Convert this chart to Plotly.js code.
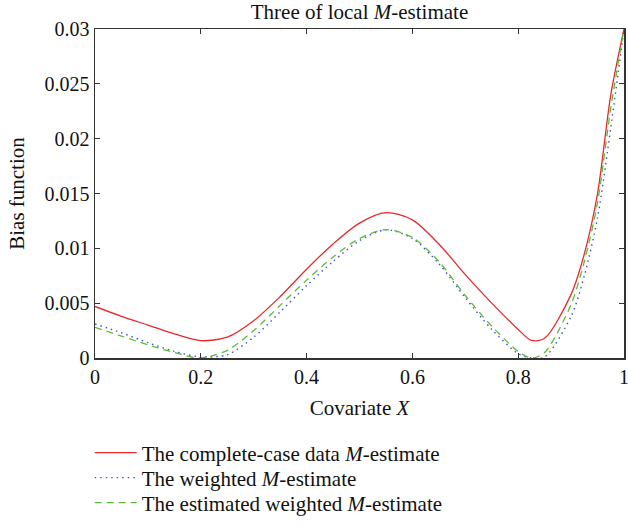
<!DOCTYPE html>
<html>
<head>
<meta charset="utf-8">
<script src="https://cdn.plot.ly/plotly-3.0.1.min.js"></script>
<style>html,body{margin:0;padding:0;background:#fff;}#chart{width:628px;height:525px;}</style>
</head>
<body>
<div id="chart"></div>
<script>
// Covariate X grid points (shared by the three curves)
const covariateX = [0, 0.05, 0.10, 0.15, 0.20, 0.25, 0.30, 0.35, 0.40, 0.45, 0.50, 0.55, 0.60, 0.65, 0.70, 0.75, 0.80, 0.825, 0.85, 0.90, 0.925, 0.95, 0.975, 1.0];
// Bias function values
const biasComplete  = [0.0047, 0.0038, 0.0030, 0.0022, 0.00158, 0.0019, 0.0034, 0.0056, 0.0081, 0.0104, 0.0123, 0.01325, 0.0126, 0.0104, 0.0076, 0.0050, 0.0026, 0.0016, 0.0018, 0.0058, 0.0095, 0.0150, 0.0240, 0.0300];
const biasWeighted  = [0.0031, 0.0023, 0.0014, 0.0006, 0.0001, 0.0003, 0.0019, 0.0042, 0.0066, 0.0088, 0.0107, 0.0117, 0.0109, 0.0086, 0.0055, 0.0026, 0.0004, 0.0000, 0.0001, 0.0038, 0.0075, 0.0128, 0.0210, 0.0300];
const biasEstimated = [0.0028, 0.0020, 0.0012, 0.0005, 0.0000, 0.0007, 0.0025, 0.0048, 0.0071, 0.0092, 0.0109, 0.0117, 0.0110, 0.0088, 0.0057, 0.0029, 0.0006, 0.0000, 0.0005, 0.0049, 0.0088, 0.0142, 0.0228, 0.0300];

const seriesNames = [
  'The complete-case data <i>M</i>-estimate',
  'The weighted <i>M</i>-estimate',
  'The estimated weighted <i>M</i>-estimate'
];
const xTickVals = [0, 0.2, 0.4, 0.6, 0.8, 1];
const xTickText = ['0', '0.2', '0.4', '0.6', '0.8', '1'];
const yTickVals = [0, 0.005, 0.01, 0.015, 0.02, 0.025, 0.03];
const yTickText = ['0', '0.005', '0.01', '0.015', '0.02', '0.025', '0.03'];

const FONT = 'Liberation Serif, Times New Roman, serif';

const traces = [
  {x: covariateX, y: biasComplete, name: seriesNames[0], mode: 'lines', legend: 'legend',
   line: {color: '#e8282a', width: 1.3, shape: 'spline', smoothing: 0.8}},
  {x: covariateX, y: biasWeighted, name: seriesNames[1], mode: 'lines', legend: 'legend2',
   line: {color: '#3b57c4', width: 1.4, dash: '1.5px,4px', shape: 'spline', smoothing: 0.8}},
  {x: covariateX, y: biasEstimated, name: seriesNames[2], mode: 'lines', legend: 'legend3',
   line: {color: '#5cbb38', width: 1.3, dash: '7px,5px', shape: 'spline', smoothing: 0.8}}
];

const axisCommon = {
  showline: true, linecolor: '#333', linewidth: 1.5, mirror: 'ticks',
  ticks: 'inside', ticklen: 5, tickcolor: '#333', tickwidth: 1.2,
  showgrid: false, zeroline: false, ticklabeloverflow: 'allow',
  tickfont: {family: FONT, size: 20, color: '#111'}
};

function legendAt(yPaper) {
  return {x: -0.01, xanchor: 'left', y: yPaper, yanchor: 'middle', orientation: 'v', itemwidth: 42,
          font: {family: FONT, size: 21, color: '#111'}, bgcolor: 'rgba(0,0,0,0)'};
}

const layout = {
  width: 628, height: 525,
  margin: {l: 95, r: 4, t: 29, b: 167, autoexpand: false},
  paper_bgcolor: '#fff', plot_bgcolor: '#fff',
  font: {family: FONT, size: 20, color: '#111'},
  title: {text: 'Three of local <i>M</i>-estimate', font: {family: FONT, size: 21, color: '#111'},
          x: 0.5, xanchor: 'center', y: 0.978, yanchor: 'middle', xref: 'paper'},
  xaxis: Object.assign({}, axisCommon, {range: [0, 1], tickvals: xTickVals, ticktext: xTickText,
          title: {text: 'Covariate <i>X</i>', font: {family: FONT, size: 21}, standoff: 14}}),
  yaxis: Object.assign({}, axisCommon, {range: [0, 0.03], tickvals: yTickVals, ticktext: yTickText,
          title: {text: 'Bias function', font: {family: FONT, size: 21}, standoff: 14}}),
  showlegend: true,
  legend: legendAt(-0.2888),
  legend2: legendAt(-0.3647),
  legend3: legendAt(-0.4407)
};

Plotly.newPlot('chart', traces, layout, {displayModeBar: false, staticPlot: true});
</script>
</body>
</html>
